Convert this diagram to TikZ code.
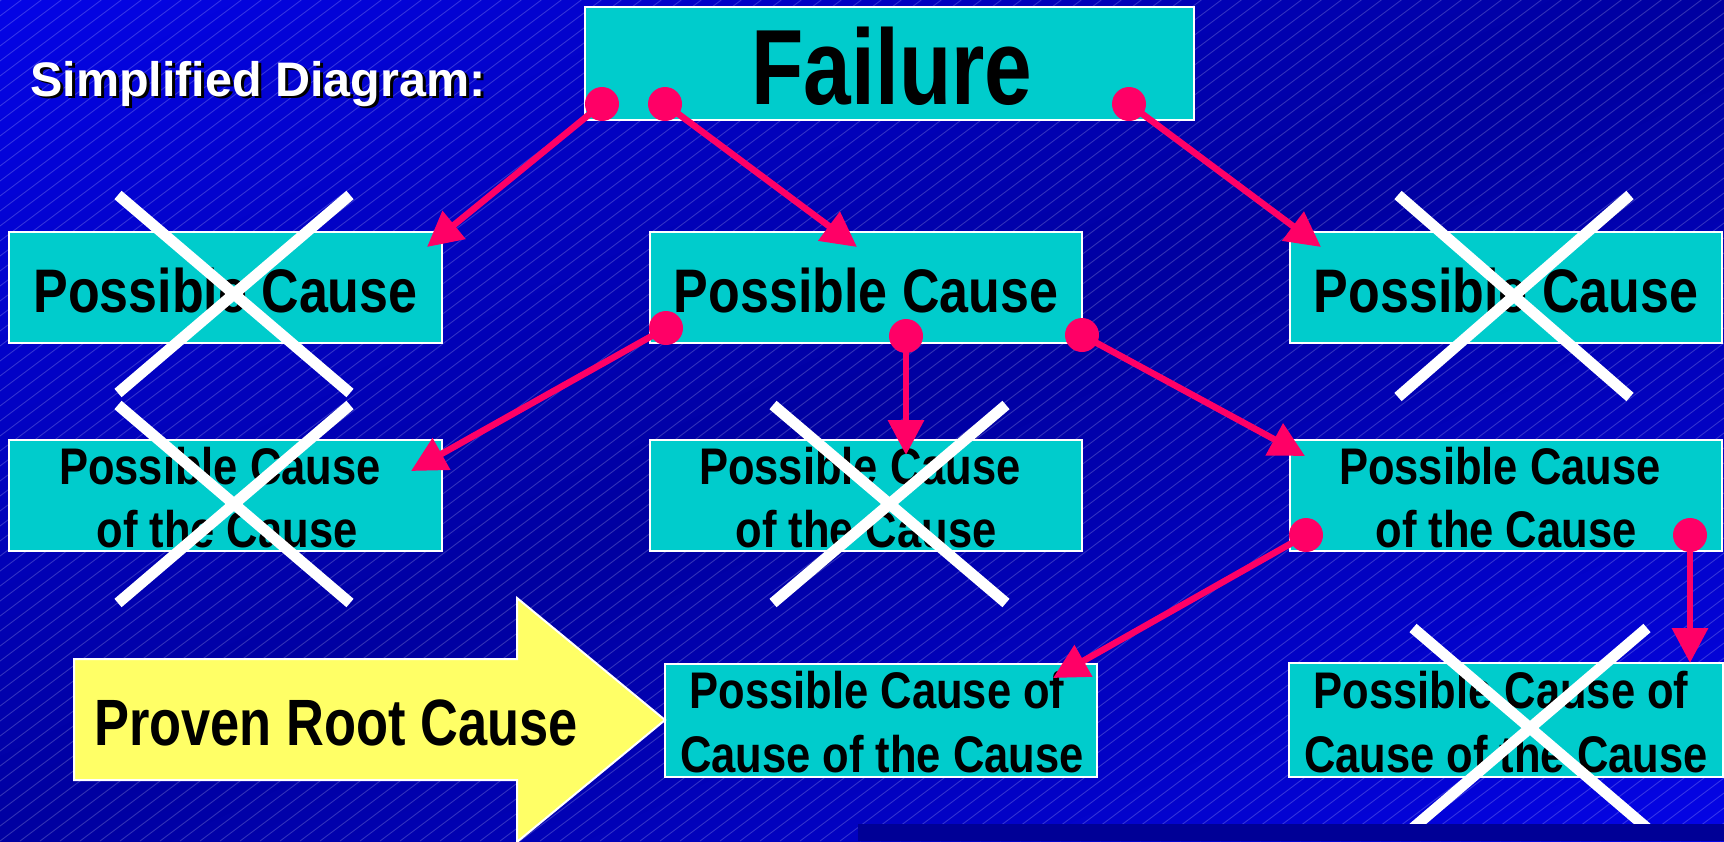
\documentclass[tikz,border=0pt]{standalone}
\usepackage{fontspec}
\setmainfont{Liberation Sans}
\newfontfamily\boxfont{Liberation Sans}[FakeStretch=0.845]
\newfontfamily\bigfont{Liberation Sans}[FakeStretch=0.80]
\usetikzlibrary{arrows.meta}

\definecolor{bgbright}{RGB}{4,4,230}
\definecolor{bgdark}{RGB}{0,0,160}
\definecolor{bgbar}{RGB}{0,0,150}
\definecolor{boxcyan}{RGB}{0,204,204}
\definecolor{linkpink}{RGB}{255,0,102}
\definecolor{arrowyellow}{RGB}{255,255,102}

\tikzset{
  cbox/.style={rectangle, draw=white, line width=2pt, fill=boxcyan, inner sep=0pt},
  link/.style={draw=linkpink, line width=6.5pt, -{Triangle[length=35pt,width=35pt]}},
  dot/.style={circle, fill=linkpink, inner sep=0pt, minimum size=34pt},
  strike/.style={draw=white, line width=11pt},
  stripe/.style={draw=white, opacity=0.2, line width=0.9pt},
  lblone/.style={font=\boxfont\bfseries\fontsize{61.5}{70}\selectfont, inner sep=0pt, anchor=base},
  lbltwo/.style={font=\boxfont\bfseries\fontsize{51.5}{60}\selectfont, inner sep=0pt, anchor=base},
  lblbig/.style={font=\bigfont\bfseries\fontsize{107}{120}\selectfont, inner sep=0pt, anchor=base},
  headtext/.style={font=\bfseries\fontsize{48.5}{56}\selectfont, inner sep=0pt, anchor=base west},
}

\begin{document}
\begin{tikzpicture}[x=1pt,y=-1pt]
  \useasboundingbox (0,0) rectangle (1724,841);
  \clip (0,0) rectangle (1724,841);

  % background: bright at the top-left and bottom-right corners, dark across the middle
  \foreach \i in {0,...,99}{
    \pgfmathsetmacro\ta{\i/50}
    \pgfmathsetmacro\tb{(\i+1)/50+0.004}
    \pgfmathsetmacro\pp{100*abs(1-(\i+0.5)/50)}
    \fill[bgbright!\pp!bgdark] (\ta*1724,0) -- (\tb*1724,0) -- (0,\tb*841) -- (0,\ta*841) -- cycle;
  }
  % fine hatching
  \foreach \s in {-1140,-1120,...,1740}
    \draw[stripe] (\s,841) -- ++(1121.3,-841);

  % heading with drop shadow
  \node[headtext, text=black] (headshadow) at (33,98.5) {Simplified Diagram:};
  \node[headtext, text=white] (head) at (30,96) {Simplified Diagram:};

  % boxes
  \node[cbox, minimum width=609pt, minimum height=113pt] (fail) at (889.5,63.5) {};
  \node[cbox, minimum width=433pt, minimum height=111pt] (pc1) at (225.5,287.5) {};
  \node[cbox, minimum width=432pt, minimum height=111pt] (pc2) at (866,287.5) {};
  \node[cbox, minimum width=432pt, minimum height=111pt] (pc3) at (1506,287.5) {};
  \node[cbox, minimum width=433pt, minimum height=111pt] (pcc1) at (225.5,495.5) {};
  \node[cbox, minimum width=432pt, minimum height=111pt] (pcc2) at (866,495.5) {};
  \node[cbox, minimum width=432pt, minimum height=111pt] (pcc3) at (1506,495.5) {};
  \node[cbox, minimum width=432pt, minimum height=113pt] (pccc2) at (881,720.5) {};
  \node[cbox, minimum width=434pt, minimum height=114pt] (pccc3) at (1506,720) {};

  % box labels
  \node[lblbig] (failt) at (892,104) {Failure};
  \node[lblone] (pc1t) at (225.5,312) {Possible Cause};
  \node[lblone] (pc2t) at (866,312) {Possible Cause};
  \node[lblone] (pc3t) at (1506,312) {Possible Cause};
  \node[lbltwo] (pcc1a) at (220,484) {Possible Cause};
  \node[lbltwo] (pcc1b) at (227,547) {of the Cause};
  \node[lbltwo] (pcc2a) at (860,484) {Possible Cause};
  \node[lbltwo] (pcc2b) at (866,547) {of the Cause};
  \node[lbltwo] (pcc3a) at (1500,484) {Possible Cause};
  \node[lbltwo] (pcc3b) at (1506,547) {of the Cause};
  \node[lbltwo] (pccc2a) at (877,708) {Possible Cause of};
  \node[lbltwo] (pccc2b) at (882,772) {Cause of the Cause};
  \node[lbltwo] (pccc3a) at (1501,708) {Possible Cause of};
  \node[lbltwo] (pccc3b) at (1506,772) {Cause of the Cause};

  % yellow pointer
  \draw[draw=white, line width=2pt, fill=arrowyellow]
    (74,659) -- (517,659) -- (517,598) -- (665,720) -- (517,842) -- (517,780) -- (74,780) -- cycle;
  \node[font=\bigfont\bfseries\fontsize{65.5}{74}\selectfont, inner sep=0pt, anchor=base west]
    (proven) at (94,745) {Proven Root Cause};

  % connector end points
  \coordinate (t1) at (427,247);
  \coordinate (t2) at (857,247);
  \coordinate (t3) at (1321,247);
  \coordinate (t4) at (411,471);
  \coordinate (t5) at (906,455);
  \coordinate (t6) at (1305,456);
  \coordinate (t7) at (1053,678);
  \coordinate (t8) at (1690,663);

  % connectors
  \draw[link] (602,104) coordinate (s1) -- (t1);
  \draw[link] (665,104) coordinate (s2) -- (t2);
  \draw[link] (1129,104) coordinate (s3) -- (t3);
  \draw[link] (666,328) coordinate (s4) -- (t4);
  \draw[link] (906,336) coordinate (s5) -- (t5);
  \draw[link] (1082,335) coordinate (s6) -- (t6);
  \draw[link] (1306,535) coordinate (s7) -- (t7);
  \draw[link] (1690,535) coordinate (s8) -- (t8);
  \foreach \k in {1,...,8}
    \node[dot] (d\k) at (s\k) {};

  % rejected causes
  \draw[strike] (118,195) -- (350,393) (350,195) -- (118,393);
  \draw[strike] (118,405) -- (350,603) (350,405) -- (118,603);
  \draw[strike] (773,405) -- (1006,603) (1006,405) -- (773,603);
  \draw[strike] (1398,195) -- (1630,397) (1630,195) -- (1398,397);
  \draw[strike] (1413,628) -- (1647,828) (1647,628) -- (1413,828);

  % dark band at the lower right
  \fill[bgbar] (858,824) rectangle (1724,841);
\end{tikzpicture}
\end{document}
